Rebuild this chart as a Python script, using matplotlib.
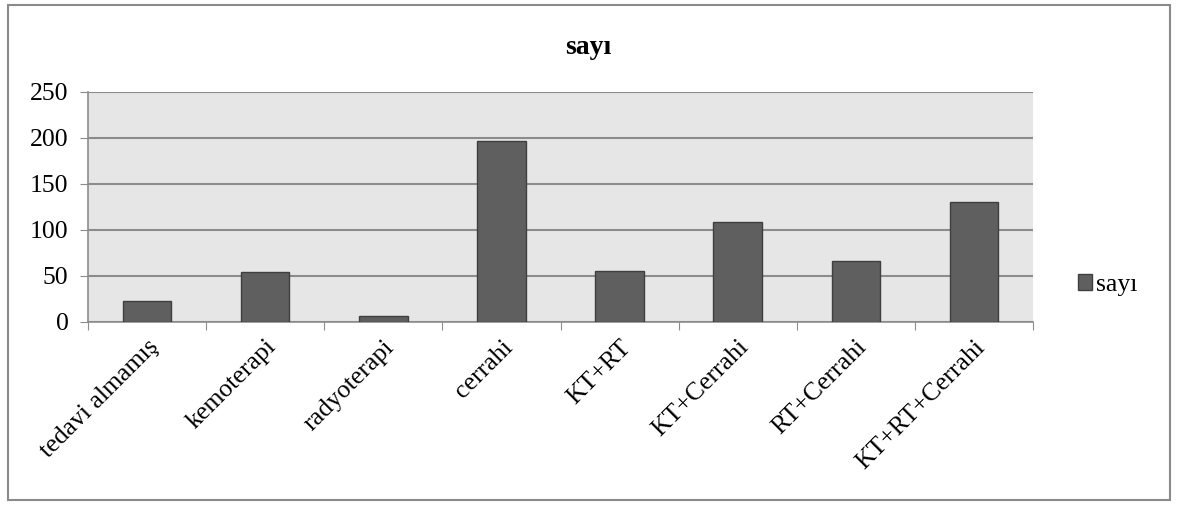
import matplotlib
matplotlib.use("Agg")
import matplotlib.pyplot as plt
from matplotlib.patches import Rectangle
import numpy as np

categories = ["tedavi almamış", "kemoterapi", "radyoterapi", "cerrahi",
              "KT+RT", "KT+Cerrahi", "RT+Cerrahi", "KT+RT+Cerrahi"]
values = [23, 54, 6, 197, 55, 109, 66, 130]
y_ticks = [0, 50, 100, 150, 200, 250]
series_name = "sayı"

plt.rcParams["font.family"] = ["Liberation Serif", "DejaVu Serif"]

W, H = 1179, 507
fig = plt.figure(figsize=(W / 100, H / 100), dpi=100)
fig.patch.set_facecolor("white")

# outer chart frame
fig.add_artist(Rectangle((8 / W, 1 - 500 / H), (1170 - 8) / W, (500 - 5) / H,
                         transform=fig.transFigure, fill=False,
                         edgecolor="#8a8a8a", linewidth=1.5))

left, right, top, bottom = 88, 1033, 92, 322
ax = fig.add_axes([left / W, 1 - bottom / H, (right - left) / W, (bottom - top) / H])
ax.set_facecolor("#e6e6e6")

x = np.arange(len(categories))
bars = ax.bar(x, values, width=0.41, color="#5f5f5f", edgecolor="#3f3f3f",
              linewidth=1.0, label=series_name, zorder=3)

ax.set_xlim(-0.5, len(categories) - 0.5)
ax.set_ylim(0, 250)
ax.set_yticks(y_ticks)
ax.set_yticklabels([str(v) for v in y_ticks], fontsize=18.5)
ax.yaxis.grid(True, color="#8c8c8c", linewidth=1.5, zorder=1)
ax.set_axisbelow(True)

# category ticks sit on the boundaries between bars
ax.set_xticks(np.arange(len(categories) + 1) - 0.5)
ax.set_xticklabels([])
ax.set_xticks(x, minor=True)
ax.set_xticklabels(categories, minor=True, rotation=45, ha="right",
                   rotation_mode="anchor", fontsize=18.5)
ax.tick_params(axis="x", which="minor", length=0, pad=10)
ax.tick_params(axis="x", which="major", length=6, color="#8c8c8c", direction="out")
ax.tick_params(axis="y", length=6, color="#8c8c8c", direction="out", pad=8)

for s in ["top", "right"]:
    ax.spines[s].set_visible(False)
for s in ["left", "bottom"]:
    ax.spines[s].set_color("#8c8c8c")
    ax.spines[s].set_linewidth(1.2)

fig.text(588 / W, 1 - 48 / H, series_name, ha="center", va="center",
         fontsize=20, fontweight="bold")

leg = ax.legend(loc="center left", bbox_to_anchor=(1055 / W, 1 - 285 / H),
                bbox_transform=fig.transFigure, frameon=False, fontsize=18.5,
                handlelength=0.55, handleheight=0.55, handletextpad=0.15)

fig.savefig("out.png", dpi=100)
